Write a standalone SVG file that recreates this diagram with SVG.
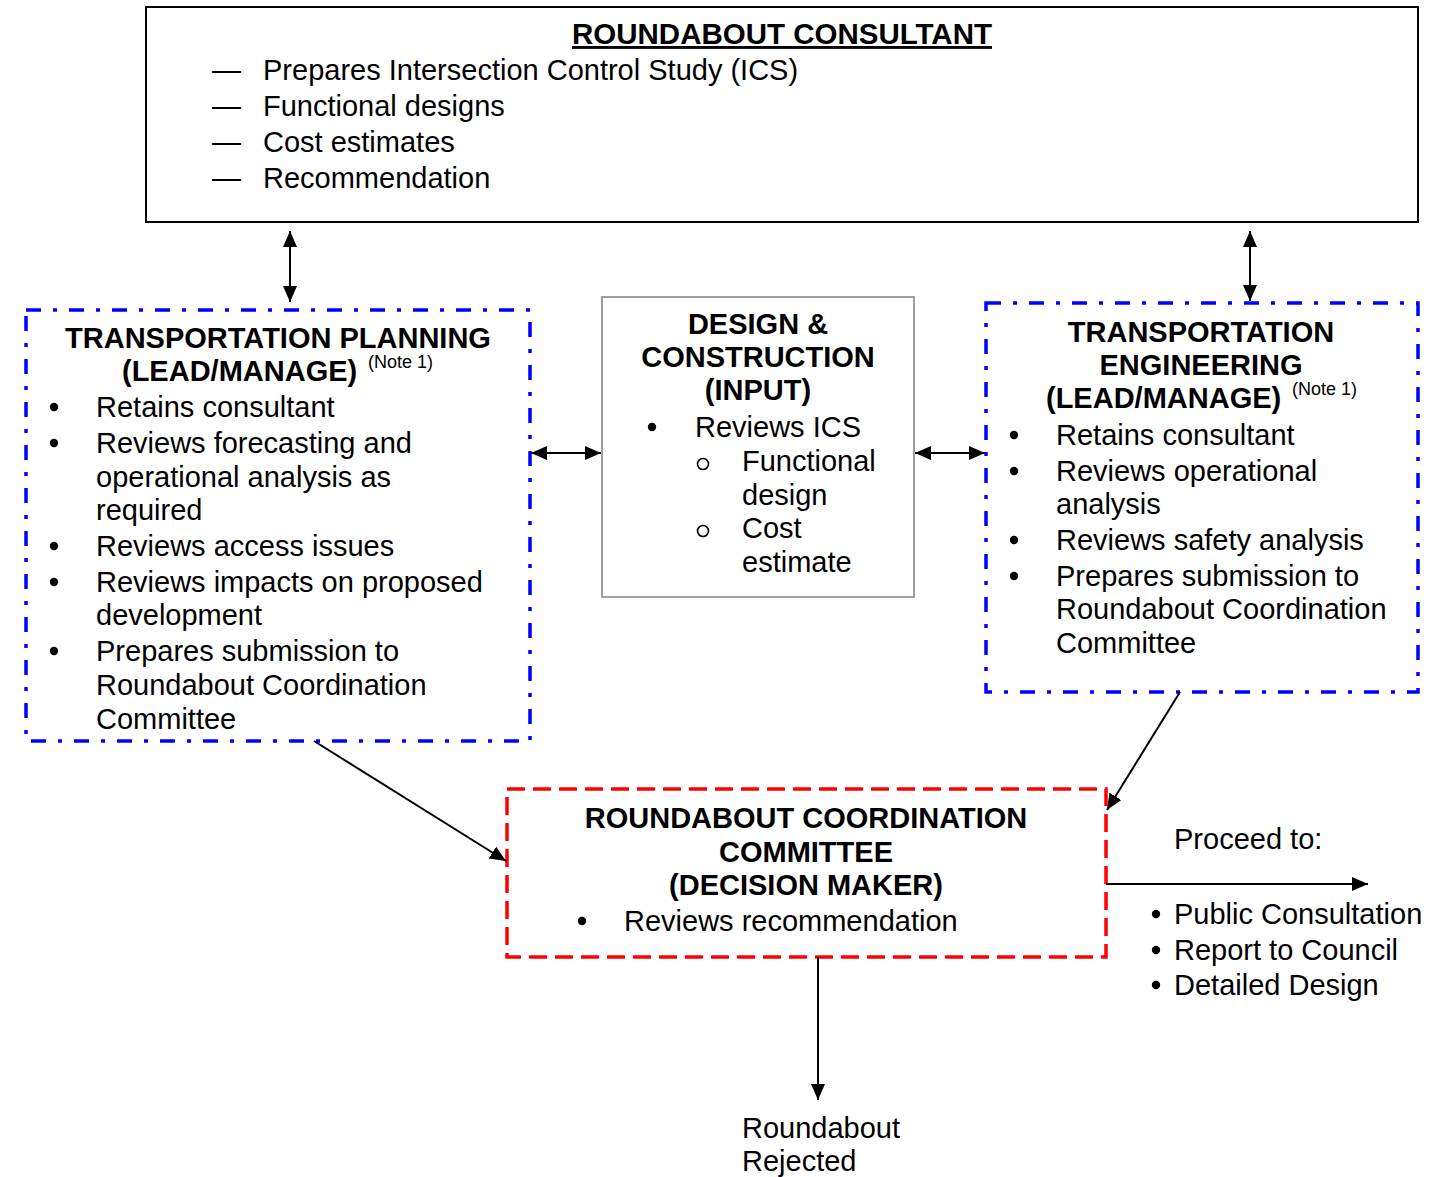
<svg xmlns="http://www.w3.org/2000/svg" width="1456" height="1177" viewBox="0 0 1456 1177">
<defs>
<marker id="ah" viewBox="0 0 16 14" refX="16" refY="7" markerWidth="16" markerHeight="14" markerUnits="userSpaceOnUse" orient="auto-start-reverse">
<path d="M0,0 L16,7 L0,14 Z" fill="#000"/>
</marker>
<style>
text{font-family:"Liberation Sans",Arial,sans-serif;fill:#000}
.t{font-size:29px}
.b{font-size:29px;font-weight:bold}
.n{font-size:18px}
.c{text-anchor:middle}
.dot{fill:#000}
.ring{fill:none;stroke:#000;stroke-width:1.6}
.blue{fill:none;stroke:#0000ff;stroke-width:3.5;stroke-dasharray:15 12 4 12}
.red{fill:none;stroke:#ff0000;stroke-width:3.5;stroke-dasharray:18 8}
.con{fill:none;stroke:#000;stroke-width:2}
</style>
</defs>
<rect width="1456" height="1177" fill="#fff"/>

<g id="consultant">
<rect x="146" y="7" width="1272" height="215" fill="#fff" stroke="#000" stroke-width="2"/>
<text class="b c" x="782" y="44" text-decoration="underline" textLength="420" lengthAdjust="spacingAndGlyphs">ROUNDABOUT CONSULTANT</text>
<g class="t">
<text x="212" y="80">—</text><text x="263" y="80">Prepares Intersection Control Study (ICS)</text>
<text x="212" y="116">—</text><text x="263" y="116">Functional designs</text>
<text x="212" y="152">—</text><text x="263" y="152">Cost estimates</text>
<text x="212" y="188">—</text><text x="263" y="188">Recommendation</text>
</g>
</g>

<g id="planning">
<rect class="blue" x="26" y="310" width="504" height="431"/>
<text class="b c" x="278" y="348">TRANSPORTATION PLANNING</text>
<text class="b" x="122" y="381">(LEAD/MANAGE)</text>
<text class="n" x="368" y="368">(Note 1)</text>
<g class="dot">
<circle cx="54" cy="407" r="4.2"/><circle cx="54" cy="443" r="4.2"/><circle cx="54" cy="546" r="4.2"/><circle cx="54" cy="582" r="4.2"/><circle cx="54" cy="651" r="4.2"/>
</g>
<g class="t">
<text x="96" y="417">Retains consultant</text>
<text x="96" y="453">Reviews forecasting and</text>
<text x="96" y="487">operational analysis as</text>
<text x="96" y="520">required</text>
<text x="96" y="556">Reviews access issues</text>
<text x="96" y="592">Reviews impacts on proposed</text>
<text x="96" y="625">development</text>
<text x="96" y="661">Prepares submission to</text>
<text x="96" y="695">Roundabout Coordination</text>
<text x="96" y="729">Committee</text>
</g>
</g>

<g id="design">
<rect x="602" y="297" width="312" height="300" fill="#fff" stroke="#808080" stroke-width="1.5"/>
<text class="b c" x="758" y="334">DESIGN &amp;</text>
<text class="b c" x="758" y="367">CONSTRUCTION</text>
<text class="b c" x="758" y="400">(INPUT)</text>
<circle class="dot" cx="652" cy="427" r="4.2"/>
<circle class="ring" cx="703" cy="464" r="5.5"/>
<circle class="ring" cx="703" cy="531" r="5.5"/>
<g class="t">
<text x="695" y="437">Reviews ICS</text>
<text x="742" y="471">Functional</text>
<text x="742" y="505">design</text>
<text x="742" y="538">Cost</text>
<text x="742" y="572">estimate</text>
</g>
</g>

<g id="engineering">
<rect class="blue" x="986" y="303" width="432" height="389"/>
<text class="b c" x="1201" y="342">TRANSPORTATION</text>
<text class="b c" x="1201" y="375">ENGINEERING</text>
<text class="b" x="1046" y="408">(LEAD/MANAGE)</text>
<text class="n" x="1292" y="395">(Note 1)</text>
<g class="dot">
<circle cx="1014" cy="435" r="4.2"/><circle cx="1014" cy="471" r="4.2"/><circle cx="1014" cy="540" r="4.2"/><circle cx="1014" cy="576" r="4.2"/>
</g>
<g class="t">
<text x="1056" y="445">Retains consultant</text>
<text x="1056" y="481">Reviews operational</text>
<text x="1056" y="514">analysis</text>
<text x="1056" y="550">Reviews safety analysis</text>
<text x="1056" y="586">Prepares submission to</text>
<text x="1056" y="619">Roundabout Coordination</text>
<text x="1056" y="653">Committee</text>
</g>
</g>

<g id="committee">
<rect class="red" x="507" y="789" width="599" height="168"/>
<text class="b c" x="806" y="828">ROUNDABOUT COORDINATION</text>
<text class="b c" x="806" y="862">COMMITTEE</text>
<text class="b c" x="806" y="895">(DECISION MAKER)</text>
<circle class="dot" cx="582" cy="921" r="4.2"/>
<text class="t" x="624" y="931">Reviews recommendation</text>
</g>

<g id="proceed">
<text class="t" x="1174" y="849">Proceed to:</text>
<g class="dot">
<circle cx="1156" cy="914" r="4.2"/><circle cx="1156" cy="950" r="4.2"/><circle cx="1156" cy="985" r="4.2"/>
</g>
<text class="t" x="1174" y="924">Public Consultation</text>
<text class="t" x="1174" y="960">Report to Council</text>
<text class="t" x="1174" y="995">Detailed Design</text>
</g>

<g id="rejected">
<text class="t" x="742" y="1138">Roundabout</text>
<text class="t" x="742" y="1171">Rejected</text>
</g>

<g id="connectors">
<line class="con" x1="290" y1="231" x2="290" y2="302" marker-start="url(#ah)" marker-end="url(#ah)"/>
<line class="con" x1="1250" y1="231" x2="1250" y2="301" marker-start="url(#ah)" marker-end="url(#ah)"/>
<line class="con" x1="531" y1="453" x2="601" y2="453" marker-start="url(#ah)" marker-end="url(#ah)"/>
<line class="con" x1="915" y1="453" x2="985" y2="453" marker-start="url(#ah)" marker-end="url(#ah)"/>
<line class="con" x1="314" y1="741" x2="506" y2="861" marker-end="url(#ah)"/>
<line class="con" x1="1180" y1="692" x2="1107" y2="810" marker-end="url(#ah)"/>
<line class="con" x1="1106" y1="884" x2="1368" y2="884" marker-end="url(#ah)"/>
<line class="con" x1="818" y1="957" x2="818" y2="1100" marker-end="url(#ah)"/>
</g>
</svg>
